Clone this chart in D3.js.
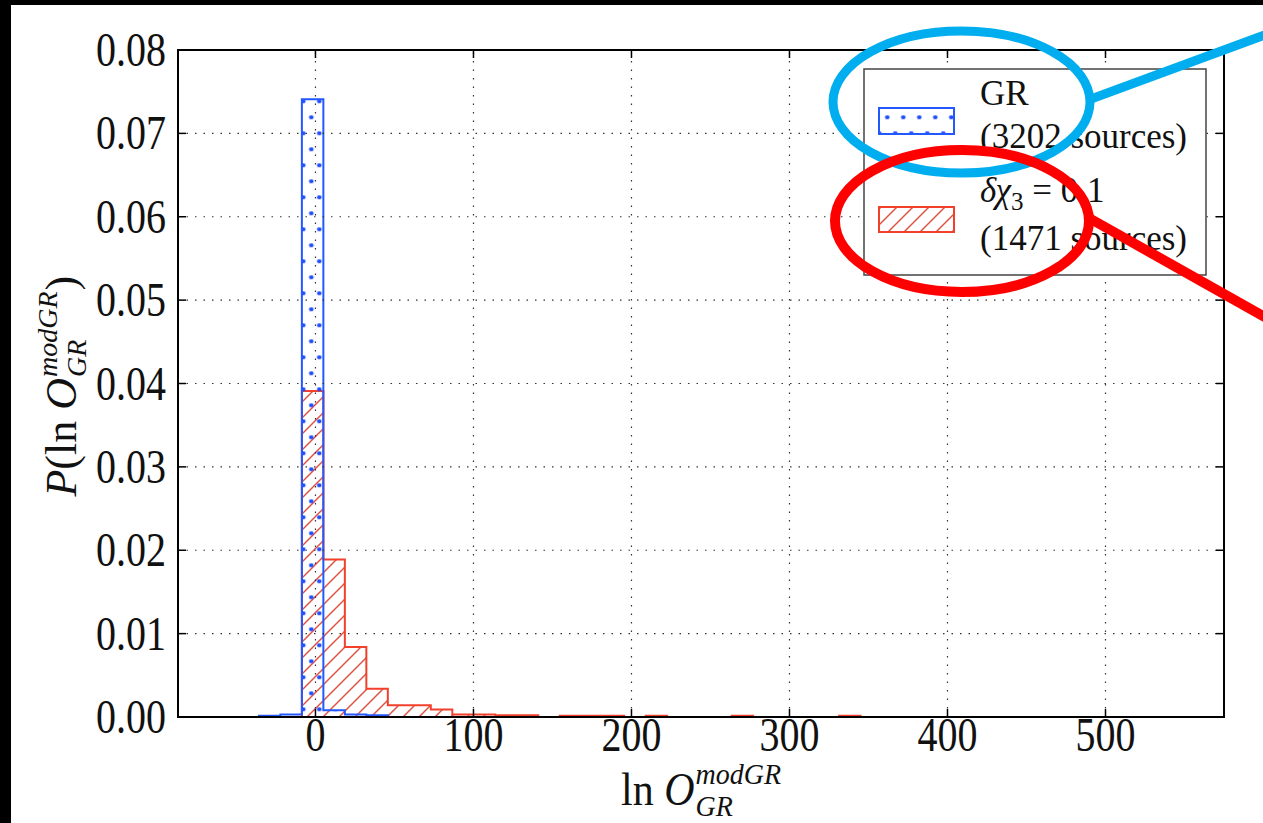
<!DOCTYPE html>
<html>
<head>
<meta charset="utf-8">
<script src="https://cdn.jsdelivr.net/npm/d3@7"></script>
<style>
  body { margin: 0; background: #fff; }
  svg { display: block; }
  text { font-family: "Liberation Serif", "DejaVu Serif", serif; fill: #111; }
</style>
</head>
<body>
<svg id="chart" width="1263" height="823"></svg>
<script>
// ---- data ----
var binWidth = 13.6;

// GR run (3202 sources), left edge of each bin and density
var grBinLeft = [-35.8, -22.2, -8.6, 5.0, 18.6, 32.2];
var grValues  = [0.00015, 0.0003, 0.0741, 0.0008, 0.0003, 0.0002];

// delta chi_3 = 0.1 run (1471 sources)
var chiBinLeft = [-8.6, 5.0, 18.6, 32.2, 45.8, 59.4, 73.0, 86.6, 100.2, 113.8,
                  127.4, 141.0, 154.6, 168.2, 181.8, 195.4, 209.0, 222.6, 236.2,
                  249.8, 263.4, 277.0, 290.6, 304.2, 317.8, 331.4];
var chiValues  = [0.0391, 0.0189, 0.0084, 0.0034, 0.0014, 0.0014, 0.0009, 0.0003,
                  0.0003, 0.0002, 0.0002, 0, 0.00015, 0.00015, 0.00015, 0, 0.00015,
                  0, 0, 0, 0.00015, 0, 0, 0, 0, 0.00015];

var xTicks = [0, 100, 200, 300, 400, 500];
var yTicks = [0, 0.01, 0.02, 0.03, 0.04, 0.05, 0.06, 0.07, 0.08];

var legendLabels = ['GR', '(3202 sources)', '(1471 sources)'];

// ---- layout ----
var width = 1263, height = 823;
var plot = { left: 178, right: 1224, top: 50, bottom: 717 };
var stretch = 1.22;   // the original picture is stretched vertically

var svg = d3.select('#chart');

svg.append('rect').attr('width', width).attr('height', height).attr('fill', '#fff');

var x = d3.scaleLinear().domain([-87, 575]).range([plot.left, plot.right]);
var y = d3.scaleLinear().domain([0, 0.08]).range([plot.bottom, plot.top]);

// hatch patterns
var defs = svg.append('defs');
var dots = defs.append('pattern')
	.attr('id', 'dots')
	.attr('patternUnits', 'userSpaceOnUse')
	.attr('width', 16).attr('height', 32)
	.attr('x', -0.7).attr('y', 5.3);
[[0, 0], [16, 0], [8, 16], [0, 32], [16, 32]].forEach(function(p) {
	dots.append('ellipse')
		.attr('cx', p[0]).attr('cy', p[1])
		.attr('rx', 2.4).attr('ry', 1.9)
		.attr('fill', '#1f4bff');
});

var diag = defs.append('pattern')
	.attr('id', 'diag')
	.attr('patternUnits', 'userSpaceOnUse')
	.attr('width', 16).attr('height', 16);
diag.append('path')
	.attr('d', 'M-4,4 L4,-4 M0,16 L16,0 M12,20 L20,12')
	.attr('stroke', '#dc5443')
	.attr('stroke-width', 1.5);

// histogram outline as a closed step path
function stepPath(lefts, vals) {
	var d = 'M' + x(lefts[0]) + ',' + y(0);
	lefts.forEach(function(l, i) {
		d += 'L' + x(l) + ',' + y(vals[i]) + 'L' + x(l + binWidth) + ',' + y(vals[i]);
	});
	d += 'L' + x(lefts[lefts.length - 1] + binWidth) + ',' + y(0) + 'Z';
	return d;
}

svg.append('path')
	.attr('d', stepPath(chiBinLeft, chiValues))
	.attr('fill', 'url(#diag)')
	.attr('stroke', '#f2402c')
	.attr('stroke-width', 2)
	.attr('stroke-linejoin', 'miter');

svg.append('path')
	.attr('d', stepPath(grBinLeft, grValues))
	.attr('fill', 'url(#dots)')
	.attr('stroke', '#2358ff')
	.attr('stroke-width', 2)
	.attr('stroke-linejoin', 'miter');

// dotted grid (drawn above the bars, as in the original)
var grid = svg.append('g')
	.attr('stroke', '#333')
	.attr('stroke-width', 1.2)
	.attr('stroke-dasharray', '1.5,7');

grid.selectAll('line.gx')
	.data(xTicks)
	.enter()
	.append('line')
	.attr('class', 'gx')
	.attr('x1', function(d) { return x(d); })
	.attr('x2', function(d) { return x(d); })
	.attr('y1', plot.bottom)
	.attr('y2', plot.top);

grid.selectAll('line.gy')
	.data(yTicks.slice(1, -1))
	.enter()
	.append('line')
	.attr('class', 'gy')
	.attr('x1', plot.left)
	.attr('x2', plot.right)
	.attr('y1', function(d) { return y(d); })
	.attr('y2', function(d) { return y(d); });

// inward ticks on all four sides
var ticks = svg.append('g').attr('stroke', '#000').attr('stroke-width', 1.5);
xTicks.forEach(function(t) {
	ticks.append('line').attr('x1', x(t)).attr('x2', x(t)).attr('y1', plot.bottom).attr('y2', plot.bottom - 8);
	ticks.append('line').attr('x1', x(t)).attr('x2', x(t)).attr('y1', plot.top).attr('y2', plot.top + 8);
});
yTicks.forEach(function(t) {
	ticks.append('line').attr('x1', plot.left).attr('x2', plot.left + 8).attr('y1', y(t)).attr('y2', y(t));
	ticks.append('line').attr('x1', plot.right).attr('x2', plot.right - 8).attr('y1', y(t)).attr('y2', y(t));
});

// frame
svg.append('rect')
	.attr('x', plot.left).attr('y', plot.top)
	.attr('width', plot.right - plot.left)
	.attr('height', plot.bottom - plot.top)
	.attr('fill', 'none')
	.attr('stroke', '#000')
	.attr('stroke-width', 2);

// tick labels
var fmt = d3.format('.2f');
svg.selectAll('text.ytl')
	.data(yTicks)
	.enter()
	.append('text')
	.attr('class', 'ytl')
	.attr('transform', function(d) { return 'translate(166,' + y(d) + ') scale(1,' + stretch + ')'; })
	.attr('text-anchor', 'end')
	.attr('dy', '0.33em')
	.attr('font-size', 40)
	.text(function(d) { return fmt(d); });

svg.selectAll('text.xtl')
	.data(xTicks)
	.enter()
	.append('text')
	.attr('class', 'xtl')
	.attr('transform', function(d) { return 'translate(' + x(d) + ',751) scale(1,' + stretch + ')'; })
	.attr('text-anchor', 'middle')
	.attr('font-size', 40)
	.text(function(d) { return d; });

// math style axis labels: base + stacked superscript / subscript
function mathLabel(g, prefix, size, scriptSize, supUp, subDown) {
	var inner = g.append('g');
	var base = inner.append('text').attr('font-size', size);
	prefix.forEach(function(p) {
		base.append('tspan').attr('font-style', p.italic ? 'italic' : 'normal').text(p.t);
	});
	var bw = base.node().getComputedTextLength();
	var sup = inner.append('text').attr('font-size', scriptSize).attr('font-style', 'italic')
		.attr('x', bw + 1).attr('y', -supUp).text('modGR');
	var sub = inner.append('text').attr('font-size', scriptSize).attr('font-style', 'italic')
		.attr('x', bw + 1).attr('y', subDown).text('GR');
	var end = bw + 1 + Math.max(sup.node().getComputedTextLength(), sub.node().getComputedTextLength());
	return { inner: inner, end: end };
}

var xl = svg.append('g').attr('transform', 'translate(' + (plot.left + plot.right) / 2 + ',805) scale(1,1.08)');
var xm = mathLabel(xl, [{ t: 'ln ' }, { t: 'O', italic: true }], 42, 28, 19, 10);
xm.inner.attr('transform', 'translate(' + (-xm.end / 2) + ',0)');

var yl = svg.append('g').attr('transform', 'translate(76,386) rotate(-90)');
var ym = mathLabel(yl, [{ t: 'P', italic: true }, { t: '(ln ' }, { t: 'O', italic: true }], 44, 28, 19, 10);
ym.inner.append('text').attr('font-size', 44).attr('x', ym.end + 1).text(')');
var yend = ym.end + 16;
ym.inner.attr('transform', 'translate(' + (-yend / 2) + ',0)');

// legend
var lg = svg.append('g');
lg.append('rect')
	.attr('x', 864).attr('y', 69).attr('width', 342).attr('height', 206)
	.attr('fill', '#fff').attr('stroke', '#444').attr('stroke-width', 1.5);
lg.append('rect')
	.attr('x', 879).attr('y', 108).attr('width', 75).attr('height', 26)
	.attr('fill', 'url(#dots)').attr('stroke', '#2358ff').attr('stroke-width', 2);
lg.append('rect')
	.attr('x', 879).attr('y', 207).attr('width', 75).attr('height', 25)
	.attr('fill', 'url(#diag)').attr('stroke', '#f2402c').attr('stroke-width', 2);

lg.append('text').attr('x', 980).attr('y', 105).attr('font-size', 35).text(legendLabels[0]);
lg.append('text').attr('x', 980).attr('y', 148).attr('font-size', 35).text(legendLabels[1]);
var chiText = lg.append('text').attr('x', 980).attr('y', 202).attr('font-size', 35);
chiText.append('tspan').attr('font-style', 'italic').text('δχ');
chiText.append('tspan').attr('font-size', 25).attr('dy', 8).text('3');
chiText.append('tspan').attr('dy', -8).text(' = 0.1');
lg.append('text').attr('x', 980).attr('y', 250).attr('font-size', 35).text(legendLabels[2]);

// annotation ellipses and pointer lines
var notes = svg.append('g').attr('fill', 'none');
notes.append('ellipse')
	.attr('cx', 961.5).attr('cy', 102).attr('rx', 128.5).attr('ry', 71)
	.attr('stroke', '#00aeef').attr('stroke-width', 9);
notes.append('line')
	.attr('x1', 1091).attr('y1', 99).attr('x2', 1270).attr('y2', 33)
	.attr('stroke', '#00aeef').attr('stroke-width', 9);
notes.append('ellipse')
	.attr('cx', 962).attr('cy', 221).attr('rx', 127).attr('ry', 71)
	.attr('stroke', '#ff0000').attr('stroke-width', 10);
notes.append('line')
	.attr('x1', 1089).attr('y1', 218).attr('x2', 1270).attr('y2', 320)
	.attr('stroke', '#ff0000').attr('stroke-width', 10);

// black border strips of the original screenshot
svg.append('rect').attr('x', 0).attr('y', 0).attr('width', width).attr('height', 5).attr('fill', '#000');
svg.append('rect').attr('x', 0).attr('y', 0).attr('width', 11).attr('height', height).attr('fill', '#000');
</script>
</body>
</html>
